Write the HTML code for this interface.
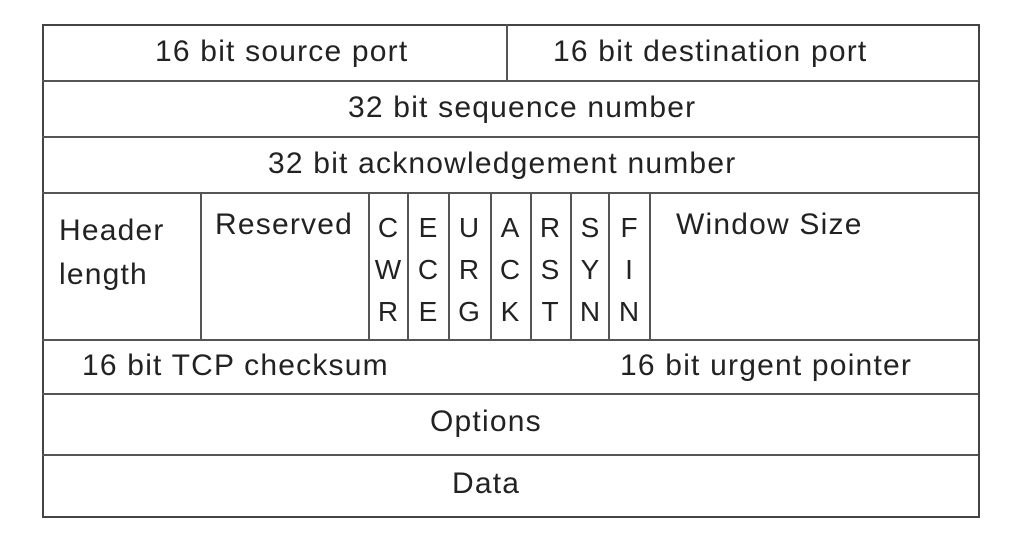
<!DOCTYPE html>
<html><head><style>
body{margin:0;background:#fff;width:1020px;height:550px;position:relative;overflow:hidden;font-family:"Liberation Sans",sans-serif;color:#222}
.l{position:absolute;background:#555}
.t{position:absolute;font-size:30px;line-height:32px;white-space:nowrap;letter-spacing:1.2px}
.f{position:absolute;top:207px;font-size:28px;line-height:42px;text-align:center;width:38px}
</style></head><body>
<div style="position:absolute;left:42px;top:24px;width:934px;height:490px;border:2px solid #444"></div>
<div class="l" style="left:42px;width:936px;top:80px;height:2px"></div>
<div class="l" style="left:42px;width:936px;top:136px;height:2px"></div>
<div class="l" style="left:42px;width:936px;top:192px;height:2px"></div>
<div class="l" style="left:42px;width:936px;top:339px;height:2px"></div>
<div class="l" style="left:42px;width:936px;top:393px;height:2px"></div>
<div class="l" style="left:42px;width:936px;top:454px;height:2px"></div>
<div class="l" style="left:506px;width:2px;top:24px;height:57px"></div>
<div class="l" style="left:200px;width:2px;top:192px;height:148px"></div>
<div class="l" style="left:368px;width:2px;top:192px;height:148px"></div>
<div class="l" style="left:407px;width:2px;top:192px;height:148px"></div>
<div class="l" style="left:448px;width:2px;top:192px;height:148px"></div>
<div class="l" style="left:490px;width:2px;top:192px;height:148px"></div>
<div class="l" style="left:530px;width:2px;top:192px;height:148px"></div>
<div class="l" style="left:570px;width:2px;top:192px;height:148px"></div>
<div class="l" style="left:608px;width:2px;top:192px;height:148px"></div>
<div class="l" style="left:649px;width:2px;top:192px;height:148px"></div>

<div class="t" style="left:155px;top:36px">16 bit source port</div>
<div class="t" style="left:553px;top:36px">16 bit destination port</div>
<div class="t" style="left:348px;top:92px">32 bit sequence number</div>
<div class="t" style="left:268px;top:148px">32 bit acknowledgement number</div>
<div class="t" style="left:59px;top:209px;line-height:44px">Header<br>length</div>
<div class="t" style="left:215px;top:209px">Reserved</div>
<div class="f" style="left:369px">C<br>W<br>R</div>
<div class="f" style="left:409px">E<br>C<br>E</div>
<div class="f" style="left:450px">U<br>R<br>G</div>
<div class="f" style="left:491px">A<br>C<br>K</div>
<div class="f" style="left:531px">R<br>S<br>T</div>
<div class="f" style="left:571px">S<br>Y<br>N</div>
<div class="f" style="left:610px">F<br>I<br>N</div>
<div class="t" style="left:676px;top:209px">Window Size</div>
<div class="t" style="left:82px;top:350px">16 bit TCP checksum</div>
<div class="t" style="left:620px;top:350px">16 bit urgent pointer</div>
<div class="t" style="left:430px;top:406px">Options</div>
<div class="t" style="left:452px;top:468px">Data</div>
</body></html>
